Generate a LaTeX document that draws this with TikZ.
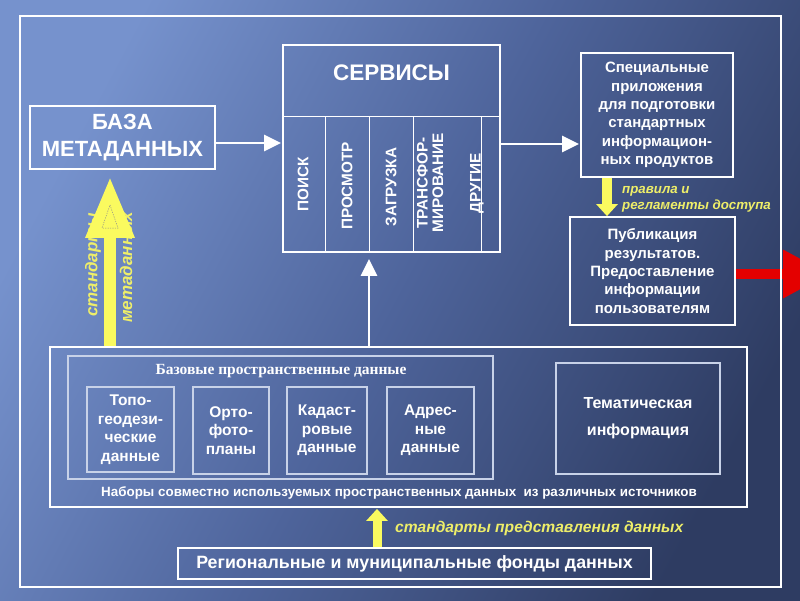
\documentclass[tikz,border=0pt]{standalone}
\usepackage{fontspec}
\setmainfont{Liberation Sans}
\setsansfont{Liberation Sans}
\newfontfamily\titleserif{Liberation Serif}
\usetikzlibrary{arrows.meta}

\definecolor{bgLight}{RGB}{118,146,205}
\definecolor{bgMid}{RGB}{78,100,155}
\definecolor{bgDark}{RGB}{46,60,98}
\definecolor{frameBlue}{RGB}{200,210,232}
\definecolor{arrowYellow}{RGB}{250,250,95}
\definecolor{labelYellow}{RGB}{238,238,105}
\definecolor{arrowRed}{RGB}{228,0,0}

\tikzset{
  box/.style={draw=white,line width=1.8pt,inner sep=0pt},
  innerbox/.style={draw=frameBlue,line width=1.2pt,inner sep=0pt},
  txt/.style={text=white,align=center,font=\bfseries\fontsize{15}{18.3}\selectfont},
  coltxt/.style={text=white,align=center,rotate=90,inner sep=0pt,font=\bfseries\fontsize{15.3}{15.5}\selectfont},
  ylabel/.style={text=labelYellow,inner sep=0pt,font=\bfseries\itshape\fontsize{13.3}{16}\selectfont},
  whitearrow/.style={draw=white,line width=2.6pt,-{Triangle[length=17pt,width=16pt]}},
  yellowarrow/.style={draw=arrowYellow,-{Triangle[length=#1]}},
}

\begin{document}
\begin{tikzpicture}[x=1pt,y=-1pt]
\useasboundingbox (0,0) rectangle (800,600);
\clip (0,0) rectangle (800,600);
% background
\shade[left color=bgLight,right color=bgDark,middle color=bgMid,shading angle=62] (0,0) rectangle (800,600);

% top row
\node[box,minimum width=185,minimum height=63,txt,font=\bfseries\fontsize{22}{27}\selectfont] (baza) at (122.5,137.5) {БАЗА\\МЕТАДАННЫХ};

\node[box,minimum width=217,minimum height=207] (servisy) at (391.5,148.5) {};
\node[txt,font=\bfseries\fontsize{22.5}{24}\selectfont] (servtitle) at (391.5,73) {СЕРВИСЫ};
\draw[white,line width=1pt] (283,116) -- (500,116);
\foreach \xx in {325,369,413,481}
  \draw[white,line width=1pt] (\xx,116) -- (\xx,252);
\node[coltxt] (poisk) at (303,184) {ПОИСК};
\node[coltxt] (prosmotr) at (347,186) {ПРОСМОТР};
\node[coltxt] (zagruzka) at (391,187) {ЗАГРУЗКА};
\node[coltxt] (transf) at (430,183) {ТРАНСФОР-\\МИРОВАНИЕ};
\node[coltxt] (drugie) at (477,183) {ДРУГИЕ};

\node[box,minimum width=152,minimum height=124,txt] (spec) at (657,115)
  {Специальные\\приложения\\для подготовки\\стандартных\\информацион-\\ных продуктов};
\node[box,minimum width=165,minimum height=108,txt] (publ) at (652.5,271)
  {Публикация\\результатов.\\Предоставление\\информации\\пользователям};

% data sets
\node[box,minimum width=697,minimum height=160] (nabory) at (398.5,427) {};
\node[txt,font=\bfseries\fontsize{13.4}{14}\selectfont] (naborytxt) at (399,493)
  {Наборы совместно используемых пространственных данных\ \ из различных источников};
\node[innerbox,minimum width=425,minimum height=123] (bazovye) at (280.5,417.5) {};
\node[text=white,inner sep=0pt,font=\titleserif\bfseries\fontsize{15.5}{16}\selectfont] (bazovyetitle) at (281,371)
  {Базовые пространственные данные};
\node[innerbox,minimum width=87,minimum height=85,txt,font=\bfseries\fontsize{15.5}{18.5}\selectfont] (topo) at (130.5,429.5) {Топо-\\геодези-\\ческие\\данные};
\node[innerbox,minimum width=76,minimum height=87,txt,font=\bfseries\fontsize{15.5}{18.5}\selectfont] (orto) at (231,430.5) {Орто-\\фото-\\планы};
\node[innerbox,minimum width=80,minimum height=87,txt,font=\bfseries\fontsize{15.5}{18.5}\selectfont] (kadastr) at (327,430.5) {Кадаст-\\ровые\\данные};
\node[innerbox,minimum width=87,minimum height=87,txt,font=\bfseries\fontsize{15.5}{18.5}\selectfont] (adres) at (430.5,430.5) {Адрес-\\ные\\данные};
\node[innerbox,minimum width=164,minimum height=111,txt,font=\bfseries\fontsize{16}{27}\selectfont] (temat) at (638,418.5)
  {Тематическая\\информация};

\node[box,minimum width=473,minimum height=31,txt,font=\bfseries\fontsize{17.8}{19}\selectfont] (region) at (414.5,563.5)
  {Региональные и муниципальные фонды данных};

% white connectors
\draw[whitearrow] ([yshift=-5.5pt]baza.east) -- ([yshift=-5.5pt,xshift=-1pt]baza.east -| servisy.west);
\draw[whitearrow] ([yshift=4.5pt]servisy.east) -- ([yshift=4.5pt,xshift=-1pt]servisy.east -| spec.west);
\draw[whitearrow] ([xshift=-29.5pt]nabory.north) -- ([xshift=-22.5pt,yshift=-6pt]servisy.south);

% yellow connectors
\node[ylabel,rotate=90,anchor=west,font=\bfseries\itshape\fontsize{17}{18}\selectfont] (stdleft) at (93,317) {стандарты};
\node[ylabel,rotate=90,anchor=west,font=\bfseries\itshape\fontsize{17}{18}\selectfont] (stdright) at (126,323) {метаданных};
\draw[yellowarrow={61pt},line width=12.5pt,-{Triangle[length=61pt,width=46pt]}]
  ([xshift=-288.5pt]nabory.north) -- ([xshift=-12.5pt,yshift=-7pt]baza.south);
\draw[black!45,line width=0.5pt,dash pattern=on 1.2pt off 1.2pt] (110,205) -- (118,228) -- (102,228) -- cycle;

\draw[yellowarrow={12pt},line width=10pt,-{Triangle[length=12pt,width=21pt]}]
  ([xshift=-50pt]spec.south) -- ([xshift=-45.5pt]publ.north);
\node[ylabel,anchor=base west] (pravila) at (622,193) {правила и};
\node[ylabel,anchor=base west] (reglam) at (622,209) {регламенты доступа};

\draw[yellowarrow={12pt},line width=9pt,-{Triangle[length=12pt,width=21pt]}]
  ([xshift=-37.5pt]region.north) -- ([xshift=-21.5pt,yshift=-1pt]nabory.south);
\node[ylabel,anchor=base west,font=\bfseries\itshape\fontsize{15.6}{16}\selectfont] (stdpred) at (395,532)
  {стандарты представления данных};

% red output arrow
\draw[arrowRed,line width=10pt,-{Triangle[length=46pt,width=46pt]}] ([yshift=-3pt]publ.east) -- (829,274);

% outer frame
\draw[white,line width=2.4pt] (20,16) rectangle (781,587);
\end{tikzpicture}
\end{document}
